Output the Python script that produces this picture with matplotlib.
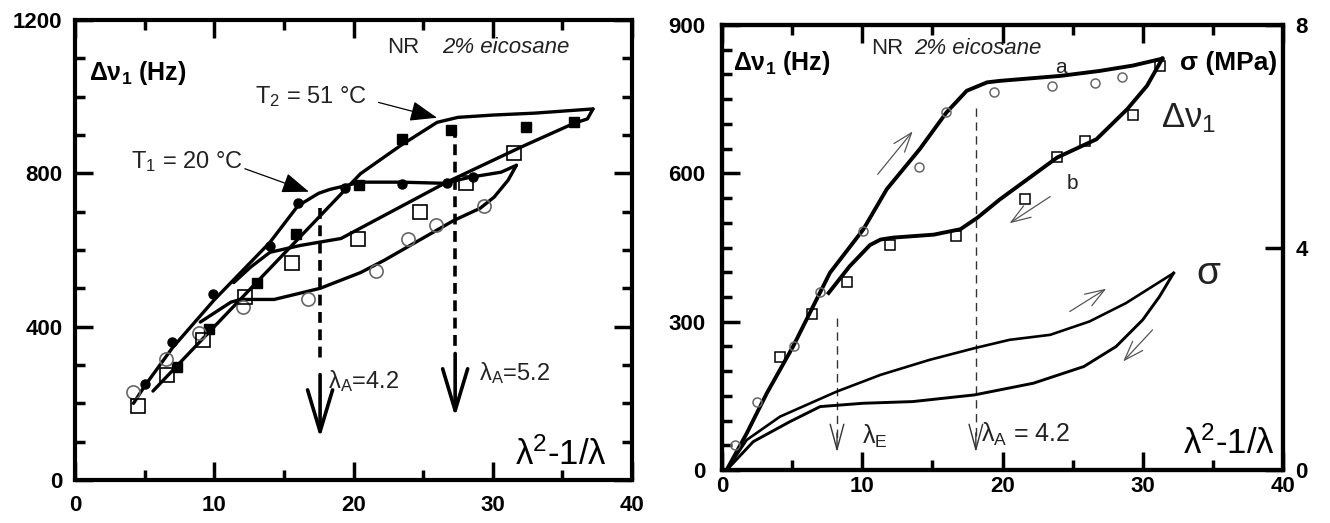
import matplotlib
matplotlib.use("Agg")
import matplotlib.pyplot as plt
from matplotlib.ticker import MultipleLocator

plt.rcParams['font.family'] = ['Liberation Sans', 'DejaVu Sans']
plt.rcParams['mathtext.fontset'] = 'custom'
plt.rcParams['mathtext.rm'] = 'Liberation Sans'
plt.rcParams['mathtext.it'] = 'Liberation Sans:italic'
plt.rcParams['mathtext.bf'] = 'Liberation Sans:bold'
plt.rcParams['mathtext.sf'] = 'Liberation Sans'

# ---------------- Left panel data ----------------
t1_load_x = [4.2, 5.0, 7.0, 10.0, 14.0, 16.0, 17.5, 18.3, 20.5, 23.4, 26.5, 28.4, 30.6, 31.7]
t1_load_y = [200, 245, 345, 470, 620, 715, 748, 758, 777, 777, 774, 790, 803, 821]
t1_unload_x = [31.7, 31.1, 30.1, 29.1, 27.2, 22.2, 20.5, 17.6, 14.3, 11.9, 11.2, 9.0]
t1_unload_y = [821, 782, 738, 709, 677, 573, 541, 500, 471, 471, 464, 412]
t2_load_x = [5.6, 10.0, 15.0, 20.5, 23.4, 26.0, 27.5, 30.0, 33.0, 37.2]
t2_load_y = [232, 400, 590, 799, 873, 933, 946, 952, 957, 968]
t2_unload_x = [37.2, 36.8, 35.8, 32.0, 26.7, 19.1, 16.2, 14.0, 12.6, 11.4]
t2_unload_y = [968, 942, 930, 868, 777, 630, 612, 594, 555, 515]

t1_load_mx = [5.0, 7.0, 9.9, 14.0, 16.0, 19.4, 23.5, 26.7, 28.6]
t1_load_my = [250, 360, 484, 610, 722, 762, 772, 776, 790]
t2_load_mx = [7.3, 9.6, 13.1, 15.9, 20.4, 23.5, 27.0, 32.4, 35.8]
t2_load_my = [295, 393, 514, 641, 770, 890, 912, 920, 933]
t1_unload_mx = [4.2, 6.5, 8.9, 12.1, 16.7, 21.6, 23.9, 25.9, 29.4]
t1_unload_my = [229, 315, 383, 451, 472, 545, 628, 664, 714]
t2_unload_mx = [4.5, 6.6, 9.2, 12.2, 15.6, 20.3, 24.8, 28.1, 31.5]
t2_unload_my = [192, 273, 364, 478, 565, 628, 700, 774, 852]

lamA_left = [17.6, 27.3]

# ---------------- Right panel data ----------------
a_x = [0.33, 1.76, 3.19, 5.07, 6.99, 7.7, 10.06, 11.75, 14.1, 16.0, 17.45, 18.9, 19.8, 24.1, 26.9, 29.3, 31.4]
a_y = [0, 74, 155, 250, 359, 399, 486, 568, 649, 723, 767, 784, 787, 797, 807, 818, 832]
b_x = [31.4, 30.3, 28.9, 26.7, 23.9, 19.8, 18.2, 17.0, 15.1, 12.2, 11.3, 10.55, 9.1, 7.6]
b_y = [832, 777, 730, 669, 632, 547, 510, 487, 476, 470, 466, 455, 412, 358]
a_mx = [0.93, 2.47, 5.14, 6.99, 10.03, 14.07, 15.97, 19.4, 23.5, 26.6, 28.5]
a_my = [50, 138, 251, 361, 483, 613, 724, 765, 776, 782, 794]
b_mx = [4.14, 6.4, 8.9, 12.0, 16.7, 21.6, 23.9, 25.9, 29.3, 31.2]
b_my = [228, 316, 380, 455, 473, 549, 634, 666, 718, 818]

sig_load_x = [0.33, 1.76, 4.14, 8.18, 11.3, 14.8, 18.0, 20.5, 23.4, 26.2, 28.8, 32.2]
sig_load_y = [0, 0.54, 0.96, 1.41, 1.71, 1.98, 2.19, 2.34, 2.43, 2.67, 3.0, 3.54]
sig_unload_x = [32.2, 31.2, 30.0, 28.1, 25.8, 22.2, 19.8, 18.0, 13.6, 10.08, 7.0, 4.85, 2.23, 0.33]
sig_unload_y = [3.54, 3.12, 2.70, 2.22, 1.86, 1.56, 1.44, 1.35, 1.23, 1.2, 1.14, 0.87, 0.51, 0]

lamE_right = 8.2
lamA_right = 18.1

TXT = '#222222'

fig = plt.figure(figsize=(13.3, 5.23), dpi=100)
ax1 = fig.add_axes([75/1330, 43/523, 557/1330, 460/523])
ax2 = fig.add_axes([722/1330, 53/523, 561/1330, 445/523])


def style_axes(ax, xpad, ypad, left=True, right=True):
    for s in ax.spines.values():
        s.set_linewidth(3)
        s.set_zorder(5)
    ax.xaxis.set_tick_params(which='both', direction='in', width=2.5, color='black',
                             top=True, bottom=True, labelsize=16, pad=xpad)
    ax.yaxis.set_tick_params(which='both', direction='in', width=2.5, color='black',
                             left=left, right=right, labelsize=16, pad=ypad)
    ax.xaxis.set_tick_params(which='major', length=13)
    ax.xaxis.set_tick_params(which='minor', length=7)
    ax.yaxis.set_tick_params(which='major', length=13)
    ax.yaxis.set_tick_params(which='minor', length=7)
    for lab in ax.get_xticklabels() + ax.get_yticklabels():
        lab.set_fontweight('bold')


# ---------------- Left panel ----------------
ax1.set_xlim(0, 40)
ax1.set_ylim(0, 1200)
ax1.xaxis.set_major_locator(MultipleLocator(10))
ax1.xaxis.set_minor_locator(MultipleLocator(5))
ax1.yaxis.set_major_locator(MultipleLocator(400))
ax1.yaxis.set_minor_locator(MultipleLocator(100))
style_axes(ax1, 11, 9)

lw = 2.4
for xs, ys in [(t1_load_x, t1_load_y), (t1_unload_x, t1_unload_y),
               (t2_load_x, t2_load_y), (t2_unload_x, t2_unload_y)]:
    ax1.plot(xs, ys, color='black', lw=lw, solid_joinstyle='round', solid_capstyle='round')

ax1.plot(t1_load_mx, t1_load_my, 'o', color='black', ms=6.5, ls='none')
ax1.plot(t2_load_mx, t2_load_my, 's', color='black', ms=7.5, ls='none')
ax1.plot(t1_unload_mx, t1_unload_my, 'o', mfc='none', mec='#666666', mew=1.2, ms=9.5, ls='none')
ax1.plot(t2_unload_mx, t2_unload_my, 's', mfc='none', mec='black', mew=1.2, ms=10.5, ls='none')

# dashed verticals + arrows
for xv, ytop, ydash, ytail, yhead in [(lamA_left[0], 710, 310, 275, 110),
                                      (lamA_left[1], 920, 340, 330, 165)]:
    ax1.plot([xv, xv], [ytop, ydash], color='black', lw=2.6, ls=(0, (3, 1.8)))
    ax1.annotate('', xy=(xv, yhead), xytext=(xv, ytail),
                 arrowprops=dict(arrowstyle='->,head_length=1.5,head_width=0.45',
                                 lw=2.6, color='black', mutation_scale=20,
                                 shrinkA=0, shrinkB=0))

ax1.text(18.2, 258, r'λ$_\mathrm{A}$=4.2', fontsize=17, color=TXT, va='center')
ax1.text(29.0, 280, r'λ$_\mathrm{A}$=5.2', fontsize=17, color=TXT, va='center')

ax1.text(0.025, 0.885, r'$\mathbf{Δν_1}$ (Hz)', transform=ax1.transAxes,
         fontsize=18, fontweight='bold', va='center')
ax1.text(0.56, 0.94, 'NR', transform=ax1.transAxes, fontsize=16, color=TXT, va='center')
ax1.text(0.659, 0.94, '2% eicosane', transform=ax1.transAxes, fontsize=16,
         style='italic', color=TXT, va='center')

ax1.text(12.9, 1000, r'T$_2$ = 51 °C', fontsize=17, color=TXT, va='center')
ax1.annotate('', xy=(26.0, 945), xytext=(21.8, 985),
             arrowprops=dict(arrowstyle='-|>,head_length=1.2,head_width=0.45',
                             lw=0.9, color='black', mutation_scale=14,
                             shrinkA=0, shrinkB=0))
ax1.text(4.0, 830, r'T$_1$ = 20 °C', fontsize=17, color=TXT, va='center')
ax1.annotate('', xy=(16.8, 752), xytext=(12.2, 812),
             arrowprops=dict(arrowstyle='-|>,head_length=1.2,head_width=0.45',
                             lw=0.9, color='black', mutation_scale=14,
                             shrinkA=0, shrinkB=0))

ax1.text(0.955, 0.055, r'$\mathregular{λ^{2}}$-1/λ', transform=ax1.transAxes,
         fontsize=25, ha='right', va='center')

# ---------------- Right panel ----------------
ax2.set_xlim(0, 40)
ax2.set_ylim(0, 900)
ax2.xaxis.set_major_locator(MultipleLocator(10))
ax2.xaxis.set_minor_locator(MultipleLocator(5))
ax2.yaxis.set_major_locator(MultipleLocator(300))
ax2.yaxis.set_minor_locator(MultipleLocator(50))

ax2b = ax2.twinx()
ax2b.set_ylim(0, 8)
ax2b.yaxis.set_major_locator(MultipleLocator(4))
style_axes(ax2, 4, 12, left=True, right=False)
ax2b.yaxis.set_tick_params(which='both', direction='in', length=13, width=2.5,
                           color='black', labelsize=16, pad=9, left=False, right=True)
for lab in ax2b.get_yticklabels():
    lab.set_fontweight('bold')
for s in ax2b.spines.values():
    s.set_linewidth(3)

ax2.plot(a_x, a_y, color='black', lw=2.8, solid_joinstyle='round')
ax2.plot(b_x, b_y, color='black', lw=2.8, solid_joinstyle='round')
ax2.plot(a_mx, a_my, 'o', mfc='none', mec='#666666', mew=1.1, ms=6.5, ls='none')
ax2.plot(b_mx, b_my, 's', mfc='none', mec='black', mew=1.1, ms=6.5, ls='none')

ax2b.plot(sig_load_x, sig_load_y, color='black', lw=1.9, solid_joinstyle='round')
ax2b.plot(sig_unload_x, sig_unload_y, color='black', lw=2.1, solid_joinstyle='round')

# dashed thin arrows
for xv, ytop in [(lamE_right, 308), (lamA_right, 733)]:
    ax2.plot([xv, xv], [ytop, 60], color='#333333', lw=1.0, ls=(0, (6, 4)))
    ax2.annotate('', xy=(xv, 36), xytext=(xv, 75),
                 arrowprops=dict(arrowstyle='->,head_length=1.3,head_width=0.35',
                                 lw=1.0, color='#333333', mutation_scale=14,
                                 shrinkA=0, shrinkB=0))

ax2.text(10.0, 68, r'λ$_\mathrm{E}$', fontsize=18, color=TXT, va='center')
ax2.text(18.5, 72, r'λ$_\mathrm{A}$ = 4.2', fontsize=18, color=TXT, va='center')

# thin gray direction arrows
arr = dict(arrowstyle='->,head_length=1.0,head_width=0.35', lw=0.9,
           color='#555555', mutation_scale=14, shrinkA=0, shrinkB=0)
ax2.annotate('', xy=(13.6, 685), xytext=(11.1, 598), arrowprops=arr)
ax2.annotate('', xy=(20.5, 499), xytext=(23.4, 553), arrowprops=arr)
ax2b.annotate('', xy=(27.4, 3.26), xytext=(24.8, 2.85), arrowprops=arr)
ax2b.annotate('', xy=(28.6, 1.95), xytext=(30.7, 2.52), arrowprops=arr)

ax2.text(24.2, 815, 'a', fontsize=15, color=TXT, ha='center', va='center')
ax2.text(25.0, 580, 'b', fontsize=15, color=TXT, ha='center', va='center')

ax2.text(0.02, 0.915, r'$\mathbf{Δν_1}$ (Hz)', transform=ax2.transAxes,
         fontsize=18, fontweight='bold', va='center')
ax2.text(0.265, 0.948, 'NR', transform=ax2.transAxes, fontsize=16, color=TXT, va='center')
ax2.text(0.343, 0.948, '2% eicosane', transform=ax2.transAxes, fontsize=16,
         style='italic', color=TXT, va='center')
ax2.text(0.99, 0.915, 'σ (MPa)', transform=ax2.transAxes, fontsize=19,
         fontweight='bold', ha='right', va='center')
ax2.text(0.783, 0.79, r'$\mathregular{Δν_1}$', transform=ax2.transAxes, fontsize=25,
         color=TXT, ha='left', va='center')
ax2.text(0.845, 0.44, 'σ', transform=ax2.transAxes, fontsize=28,
         color=TXT, ha='left', va='center')
ax2.text(0.985, 0.06, r'$\mathregular{λ^{2}}$-1/λ', transform=ax2.transAxes,
         fontsize=25, ha='right', va='center')

fig.savefig('out.png', dpi=100)
